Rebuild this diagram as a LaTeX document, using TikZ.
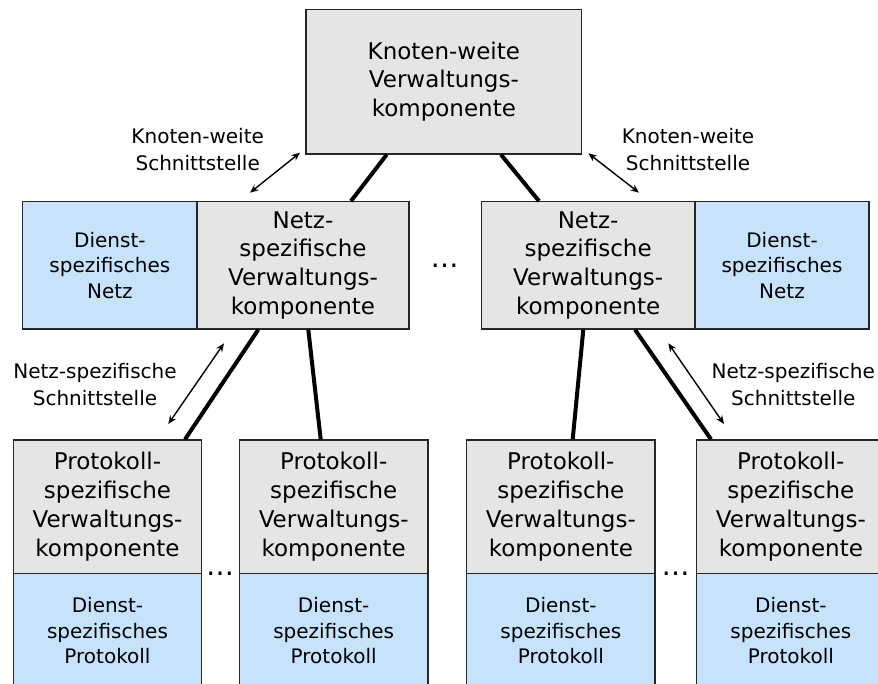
\documentclass[tikz,border=0pt]{standalone}
\usepackage{fontspec}
\setmainfont{DejaVu Sans}
\usetikzlibrary{arrows.meta}

\definecolor{mgmtgray}{HTML}{E5E5E5}
\definecolor{svcblue}{HTML}{C7E3FC}
\definecolor{edge}{HTML}{262626}

\tikzset{
  box/.style={draw=edge, line width=1.3pt, rectangle, inner sep=0pt, align=center},
  mgmt/.style={box, fill=mgmtgray, font=\fontsize{23}{28.7}\selectfont,
    execute at begin node={\rule{0pt}{24.5pt}}},
  svc/.style={box, fill=svcblue, font=\fontsize{20}{25.5}\selectfont},
  ifacelabel/.style={align=center, font=\fontsize{20}{26.7}\selectfont},
  link/.style={line width=4pt, black},
  iface/.style={line width=1.4pt, black, {Stealth[length=8.5pt,width=7pt]}-{Stealth[length=8.5pt,width=7pt]}},
  dots/.style={font=\fontsize{28}{30}\selectfont}
}

\begin{document}
\begin{tikzpicture}[x=1pt,y=-1pt]
\useasboundingbox (0,0) rectangle (878,684);
\clip (0,0) rectangle (878,684);

% node-wide management component
\node[mgmt, minimum width=275.7pt, minimum height=144.7pt] (top) at (443.85,81.65)
  {Knoten-weite\\Verwaltungs-\\komponente};

% network-specific management components with their service networks
\node[svc,  minimum width=174.3pt, minimum height=127.3pt] (dnL) at (109.85,265.35)
  {Dienst-\\spezifisches\\Netz};
\node[mgmt, minimum width=212pt, minimum height=127.3pt] (nzL) at (303,265.35)
  {Netz-\\spezifische\\Verwaltungs-\\komponente};
\node[mgmt, minimum width=213.7pt, minimum height=127.3pt] (nzR) at (588.15,265.35)
  {Netz-\\spezifische\\Verwaltungs-\\komponente};
\node[svc,  minimum width=174pt, minimum height=127.3pt] (dnR) at (782,265.35)
  {Dienst-\\spezifisches\\Netz};
\node[dots] (dotsMid) at (444.7,266) {…};

% protocol-specific management components with their service protocols
\foreach \n/\x in {p1/107.5, p2/333.7, p3/560.85, p4/790.85} {
  \node[mgmt, minimum width=188.3pt, minimum height=133.3pt] (\n) at (\x,506.65)
    {Protokoll-\\spezifische\\Verwaltungs-\\komponente};
  \node[svc, minimum width=188.3pt, minimum height=114.7pt] (\n d) at (\x,630.65)
    {Dienst-\\spezifisches\\Protokoll};
}
\node[dots] (dotsL) at (220,574) {…};
\node[dots] (dotsR) at (675.5,574) {…};

% hierarchy links
\draw[link] ([xshift=-57.15pt]top.south) -- ([xshift=48pt]nzL.north);
\draw[link] ([xshift=57.15pt]top.south) -- ([xshift=-49.15pt]nzR.north);
\draw[link] ([xshift=-44.7pt]nzL.south) -- ([xshift=77.5pt]p1.north);
\draw[link] ([xshift=5.3pt]nzL.south) -- ([xshift=-13pt]p2.north);
\draw[link] ([xshift=-4.85pt]nzR.south) -- ([xshift=11.85pt]p3.north);
\draw[link] ([xshift=46.85pt]nzR.south) -- ([xshift=-79.85pt]p4.north);

% interfaces
\coordinate (kwL1) at (250,192.7);
\coordinate (kwL2) at (300,152.7);
\coordinate (kwR1) at (588.3,153.3);
\coordinate (kwR2) at (639,192.7);
\coordinate (nsL1) at (168.3,424);
\coordinate (nsL2) at (224,343.3);
\coordinate (nsR1) at (668.3,343.3);
\coordinate (nsR2) at (724,424);
\draw[iface] (kwL1) -- (kwL2);
\draw[iface] (kwR1) -- (kwR2);
\draw[iface] (nsL1) -- (nsL2);
\draw[iface] (nsR1) -- (nsR2);

\node[ifacelabel] (lblKL) at (197.7,149.3) {Knoten-weite\\Schnittstelle};
\node[ifacelabel] (lblKR) at (688,149.3) {Knoten-weite\\Schnittstelle};
\node[ifacelabel] (lblNL) at (95,384.5) {Netz-spezifische\\Schnittstelle};
\node[ifacelabel] (lblNR) at (793.3,384.5) {Netz-spezifische\\Schnittstelle};
\end{tikzpicture}
\end{document}
